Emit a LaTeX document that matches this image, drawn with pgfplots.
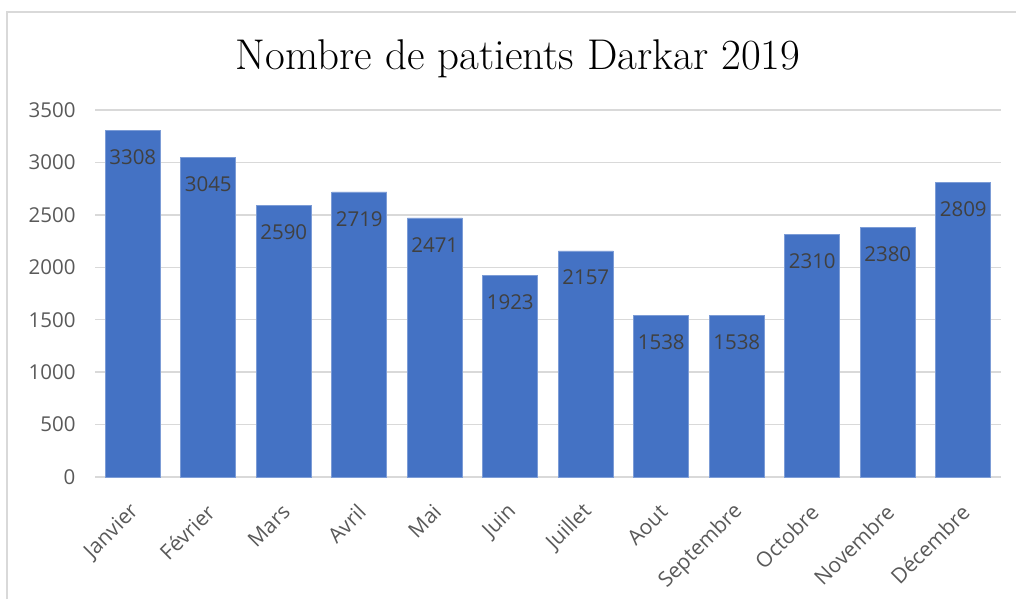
\documentclass[border=0pt]{standalone}
\usepackage{fontspec}
\usepackage{pgfplots}
\pgfplotsset{compat=1.18}
\newfontfamily\tickfont{Open Sans}
\definecolor{barblue}{HTML}{4472C4}
\definecolor{gridgrey}{HTML}{D9D9D9}
\definecolor{ticktext}{HTML}{595959}
\definecolor{labeltext}{HTML}{404040}
\begin{document}
\begin{tikzpicture}[x=1pt,y=1pt]
\path[use as bounding box] (0,0) rectangle (1016,599);
\draw[gridgrey, line width=1.5pt] (7,0) -- (7,587) -- (1016,587);
\node[font=\fontsize{43}{50}\selectfont, anchor=base] at (518,529) {Nombre de patients Darkar 2019};
\begin{axis}[
  at={(95pt,122pt)}, anchor=south west,
  scale only axis, width=906pt, height=367pt,
  xmin=-0.5, xmax=11.5, ymin=0, ymax=3500,
  ytick={0,500,...,3500},
  xtick={0,...,11},
  xticklabels={Janvier,Février,Mars,Avril,Mai,Juin,Juillet,Aout,Septembre,Octobre,Novembre,Décembre},
  axis line style={draw=none},
  major tick length=0pt,
  ymajorgrids, grid style={gridgrey, line width=1.5pt},
  tick label style={font=\tickfont\fontsize{20.5}{24}\selectfont, text=ticktext},
  /pgf/number format/assume math mode=true,
  /pgf/number format/1000 sep={},
  yticklabel style={xshift=-16pt},
  xticklabel style={font=\tickfont\fontsize{21}{25}\selectfont, rotate=45, anchor=east, xshift=-17pt, yshift=-24pt},
  clip=false,
]
\addplot[ybar, bar width=55pt, fill=barblue, draw=barblue!70!white, line width=0.6pt,
  nodes near coords, point meta=explicit symbolic,
  every node near coord/.append style={anchor=north, inner sep=0pt, yshift=-19pt, font=\tickfont\fontsize{20.5}{24}\selectfont, text=labeltext}]
  table[meta=v] {
x y v
0 3308 3308
1 3045 3045
2 2590 2590
3 2719 2719
4 2471 2471
5 1923 1923
6 2157 2157
7 1538 1538
8 1538 1538
9 2310 2310
10 2380 2380
11 2809 2809
};
\end{axis}
\end{tikzpicture}
\end{document}
